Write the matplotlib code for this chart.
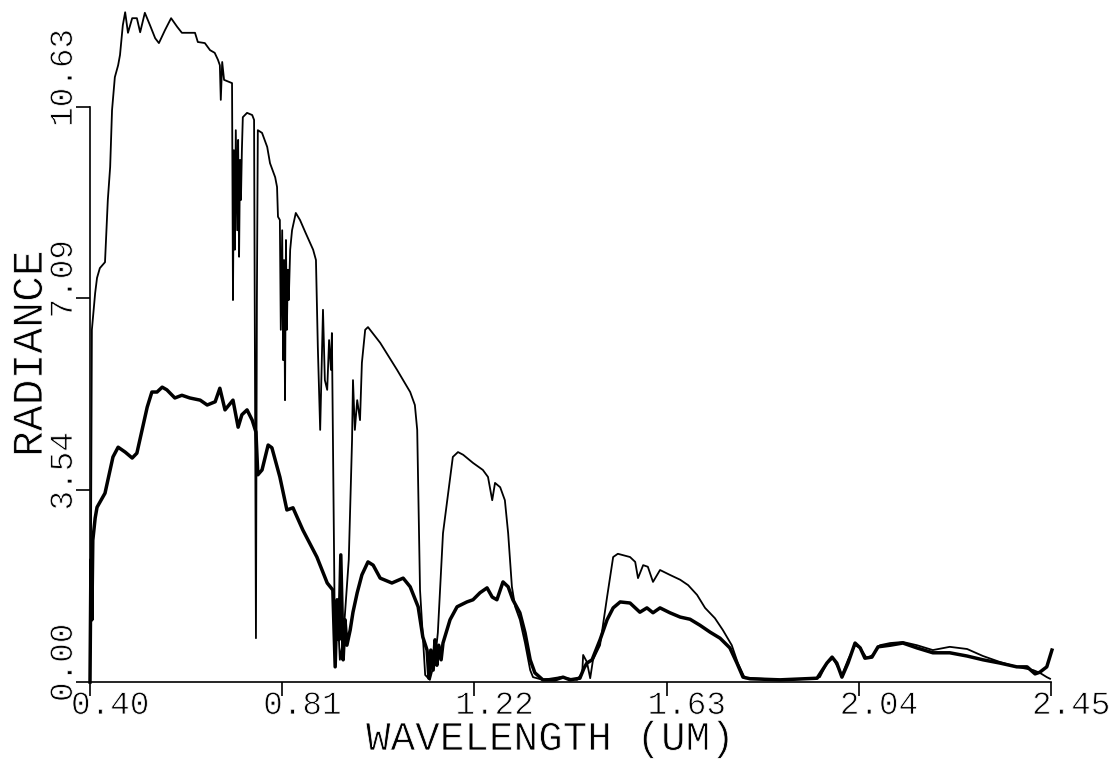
import matplotlib
matplotlib.use("Agg")
import matplotlib.pyplot as plt
from matplotlib.transforms import offset_copy
from matplotlib import patheffects

plt.rcParams['font.family'] = ['Liberation Mono', 'DejaVu Sans Mono']

# ---------------- data ----------------
thin_wl = [0.400, 0.402, 0.404, 0.411, 0.415, 0.421, 0.432, 0.438, 0.443, 0.447,
           0.453, 0.460, 0.464, 0.470, 0.475, 0.481, 0.490, 0.500, 0.507, 0.517,
           0.528, 0.539, 0.547, 0.560, 0.573, 0.586, 0.596, 0.624, 0.630, 0.645,
           0.656, 0.666, 0.673, 0.677, 0.679, 0.682, 0.686, 0.697, 0.703, 0.705,
           0.707, 0.709, 0.711, 0.714, 0.716, 0.718, 0.720, 0.722, 0.724, 0.726,
           0.735, 0.746, 0.750, 0.754, 0.756, 0.758, 0.767, 0.778, 0.784, 0.795,
           0.799, 0.801, 0.805, 0.807, 0.810, 0.812, 0.814, 0.816, 0.818, 0.820,
           0.822, 0.824, 0.827, 0.831, 0.839, 0.848, 0.859, 0.876, 0.882, 0.886,
           0.891, 0.895, 0.897, 0.901, 0.906, 0.910, 0.914, 0.916, 0.918, 0.923,
           0.927, 0.933, 0.940, 0.946, 0.952, 0.959, 0.961, 0.965, 0.970, 0.976,
           0.980, 0.987, 0.993, 1.019, 1.055, 1.083, 1.093, 1.098, 1.104, 1.115,
           1.125, 1.136, 1.142, 1.153, 1.162, 1.174, 1.185, 1.196, 1.217, 1.238,
           1.249, 1.258, 1.264, 1.275, 1.285, 1.292, 1.300, 1.307, 1.317, 1.328,
           1.339, 1.345, 1.366, 1.403, 1.439, 1.450, 1.452, 1.460, 1.467, 1.473,
           1.488, 1.503, 1.516, 1.526, 1.552, 1.563, 1.569, 1.580, 1.590, 1.601,
           1.616, 1.637, 1.659, 1.676, 1.695, 1.712, 1.733, 1.750, 1.769, 1.782,
           1.797, 1.814, 1.872, 1.942, 1.957, 1.972, 1.985, 1.993, 2.004, 2.017,
           2.032, 2.043, 2.057, 2.070, 2.085, 2.107, 2.134, 2.164, 2.198, 2.234,
           2.271, 2.305, 2.341, 2.377, 2.412, 2.426, 2.441, 2.448]
thin_rad = [0.00, 2.26, 6.51, 7.19, 7.47, 7.65, 7.76, 8.91, 9.52, 10.57,
            11.18, 11.40, 11.59, 12.14, 12.38, 12.00, 12.27, 12.27, 12.01, 12.37,
            12.14, 11.90, 11.81, 12.05, 12.27, 12.11, 12.00, 12.00, 11.83, 11.81,
            11.68, 11.63, 11.50, 11.40, 10.76, 11.46, 11.13, 11.09, 11.07, 7.06,
            9.83, 7.99, 10.20, 8.35, 10.02, 7.86, 9.65, 8.91, 9.83, 10.44,
            10.52, 10.48, 10.39, 0.81, 7.06, 10.20, 10.15, 9.89, 9.59, 9.33,
            9.15, 8.60, 8.54, 6.51, 8.35, 5.95, 7.80, 5.21, 8.17, 6.51,
            7.62, 7.06, 7.99, 8.35, 8.67, 8.54, 8.32, 7.99, 7.80, 6.19,
            4.66, 6.14, 6.88, 5.58, 5.40, 6.32, 5.77, 6.45, 4.66, 0.28,
            1.52, 0.41, 0.78, 1.52, 2.26, 4.47, 5.58, 4.66, 5.21, 4.84,
            5.90, 6.51, 6.56, 6.27, 5.77, 5.36, 5.12, 4.66, 1.70, 0.13,
            0.04, 0.41, 0.91, 2.75, 3.36, 4.16, 4.25, 4.20, 4.05, 3.92,
            3.79, 3.36, 3.68, 3.60, 3.36, 2.75, 1.76, 1.39, 1.15, 0.72,
            0.22, 0.09, 0.04, 0.09, 0.04, 0.17, 0.50, 0.37, 0.07, 0.41,
            0.68, 1.57, 2.31, 2.37, 2.31, 2.22, 1.92, 2.16, 2.13, 1.85,
            2.07, 1.98, 1.89, 1.79, 1.61, 1.37, 1.18, 0.96, 0.68, 0.35,
            0.07, 0.07, 0.04, 0.06, 0.09, 0.35, 0.44, 0.31, 0.13, 0.41,
            0.68, 0.63, 0.44, 0.50, 0.68, 0.72, 0.74, 0.68, 0.59, 0.65,
            0.61, 0.48, 0.37, 0.28, 0.22, 0.17, 0.09, 0.06]

thick_wl = [0.400, 0.402, 0.404, 0.406, 0.411, 0.415, 0.432, 0.449, 0.460, 0.475,
            0.490, 0.500, 0.522, 0.532, 0.543, 0.554, 0.564, 0.581, 0.596, 0.613,
            0.635, 0.650, 0.667, 0.677, 0.688, 0.705, 0.716, 0.724, 0.735, 0.746,
            0.754, 0.758, 0.767, 0.780, 0.788, 0.805, 0.820, 0.833, 0.854, 0.884,
            0.906, 0.918, 0.923, 0.927, 0.931, 0.935, 0.940, 0.944, 0.948, 0.955,
            0.961, 0.970, 0.980, 0.993, 1.004, 1.019, 1.044, 1.068, 1.083, 1.100,
            1.110, 1.119, 1.123, 1.127, 1.132, 1.136, 1.140, 1.144, 1.149, 1.153,
            1.168, 1.183, 1.204, 1.217, 1.232, 1.247, 1.258, 1.268, 1.281, 1.292,
            1.302, 1.317, 1.328, 1.339, 1.349, 1.366, 1.392, 1.409, 1.424, 1.445,
            1.454, 1.460, 1.471, 1.488, 1.503, 1.516, 1.531, 1.552, 1.573, 1.588,
            1.601, 1.616, 1.637, 1.659, 1.680, 1.701, 1.723, 1.744, 1.765, 1.780,
            1.793, 1.808, 1.872, 1.951, 1.972, 1.983, 1.993, 2.004, 2.017, 2.032,
            2.043, 2.053, 2.068, 2.081, 2.107, 2.134, 2.164, 2.198, 2.234, 2.271,
            2.305, 2.341, 2.377, 2.399, 2.416, 2.426, 2.441, 2.452]
thick_rad = [0.00, 2.26, 1.15, 2.62, 3.03, 3.23, 3.49, 4.16, 4.34, 4.25,
             4.14, 4.23, 5.08, 5.36, 5.36, 5.45, 5.40, 5.25, 5.30, 5.25,
             5.21, 5.12, 5.18, 5.43, 5.03, 5.21, 4.71, 4.94, 5.03, 4.84,
             4.62, 3.83, 3.92, 4.38, 4.33, 3.79, 3.18, 3.22, 2.81, 2.31,
             1.83, 1.70, 0.28, 1.52, 0.78, 2.35, 0.41, 1.15, 0.68, 0.96,
             1.29, 1.65, 1.98, 2.22, 2.16, 1.92, 1.83, 1.92, 1.76, 1.39,
             0.83, 0.59, 0.07, 0.59, 0.22, 0.78, 0.31, 0.68, 0.41, 0.72,
             1.15, 1.39, 1.48, 1.52, 1.65, 1.74, 1.57, 1.52, 1.85, 1.76,
             1.52, 1.28, 0.91, 0.41, 0.17, 0.04, 0.04, 0.09, 0.04, 0.07,
             0.26, 0.35, 0.41, 0.78, 1.15, 1.37, 1.48, 1.46, 1.29, 1.37,
             1.28, 1.37, 1.28, 1.20, 1.16, 1.05, 0.92, 0.81, 0.63, 0.35,
             0.09, 0.06, 0.04, 0.07, 0.35, 0.46, 0.35, 0.09, 0.35, 0.72,
             0.63, 0.44, 0.46, 0.65, 0.68, 0.72, 0.63, 0.54, 0.54, 0.48,
             0.41, 0.35, 0.28, 0.28, 0.15, 0.18, 0.28, 0.59]

x_ticks = [0.40, 0.81, 1.22, 1.63, 2.04, 2.45]
x_tick_labels = ["0.40", "0.81", "1.22", "1.63", "2.04", "2.45"]
y_ticks = [0.00, 3.54, 7.09, 10.63]
y_tick_labels = ["0.00", "3.54", "7.09", "10.63"]
x_title = "WAVELENGTH (UM)"
y_title = "RADIANCE"

# ---------------- figure ----------------
W, H = 1113, 762
fig = plt.figure(figsize=(W / 100, H / 100), dpi=100)
ax = fig.add_axes([90 / W, 80 / H, (1051 - 90) / W, 682 / H])
ax.set_xlim(0.40, 2.45)
ax.set_ylim(0, 682 / 54.1)

ax.plot(thin_wl, thin_rad, color='black', lw=1.3, clip_on=False, solid_joinstyle='round')
ax.plot(thick_wl, thick_rad, color='black', lw=2.5, clip_on=False, solid_joinstyle='round')

for s in ('top', 'right'):
    ax.spines[s].set_visible(False)
ax.spines['left'].set_bounds(y_ticks[0], y_ticks[-1])
ax.spines['bottom'].set_bounds(x_ticks[0], x_ticks[-1])
for s in ('left', 'bottom'):
    ax.spines[s].set_linewidth(1.2)

ax.set_xticks(x_ticks)
ax.set_yticks(y_ticks)
ax.set_xticklabels([])
ax.set_yticklabels([])
ax.tick_params(direction='out', length=10, width=1.2, color='black')

# thin-stroke look of the plotter lettering
thin_pe = [patheffects.Stroke(linewidth=0.6, foreground='white')]

# tick labels placed like the old plotter (starting before the tick)
xt = offset_copy(ax.get_xaxis_transform(), fig=fig, x=-19, y=-32, units='dots')
for v, lab in zip(x_ticks, x_tick_labels):
    ax.text(v, 0, lab, transform=xt, ha='left', va='baseline', fontsize=23.5,
            clip_on=False, path_effects=thin_pe)

yt = offset_copy(ax.get_yaxis_transform(), fig=fig, x=-18, y=-20, units='dots')
for v, lab in zip(y_ticks, y_tick_labels):
    ax.text(0, v, lab, transform=yt, rotation=90, rotation_mode='anchor',
            ha='left', va='baseline', fontsize=23.5, clip_on=False, path_effects=thin_pe)

fig.text(366 / W, (H - 750) / H, x_title, ha='left', va='baseline', fontsize=29.5,
         path_effects=thin_pe)
fig.text(42 / W, (H - 457) / H, y_title, rotation=90, rotation_mode='anchor',
         ha='left', va='baseline', fontsize=31, path_effects=thin_pe)

fig.savefig("out.png", dpi=100)
